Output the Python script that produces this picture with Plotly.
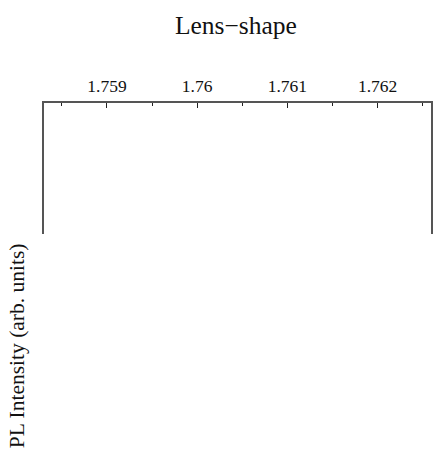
import plotly.graph_objects as go

# Data (axis ticks; no visible data marks)
x_range = [1.758302, 1.762592]
tick_values = [1.759, 1.760, 1.761, 1.762]
tick_labels = ["1.759", "1.76", "1.761", "1.762"]
x_data = []
y_data = []

title_text = "Lens\u2212shape"
y_label = "PL Intensity (arb. units)"

W, H = 434, 459
L, R, T, B = 44, 1, 103, 225
plot_h = H - T - B
plot_w = W - L - R

FONT = "Liberation Serif, Times New Roman, Times, serif"
LINE = "#555555"

fig = go.Figure()
fig.add_trace(go.Scatter(x=x_data, y=y_data, mode="lines", showlegend=False))

fig.update_layout(
    width=W, height=H,
    margin=dict(l=L, r=R, t=T, b=B, pad=0),
    paper_bgcolor="white", plot_bgcolor="white",
    font=dict(family=FONT, color="#111111"),
    showlegend=False,
    title=dict(text=title_text, font=dict(family=FONT, size=25.5, color="#111111"),
               x=(L + plot_w / 2) / W - 0.006, xanchor="center",
               y=1 - 25 / H, yanchor="middle", yref="container"),
    xaxis=dict(
        side="top", range=x_range,
        tickmode="array", tickvals=tick_values, ticktext=tick_labels,
        ticks="inside", ticklen=5, tickwidth=1.2, tickcolor="#222222",
        ticklabelstandoff=2,
        minor=dict(tickmode="linear", tick0=1.7585, dtick=0.001, ticks="inside",
                   ticklen=3, tickwidth=1.2, tickcolor="#222222"),
        showline=True, linecolor=LINE, linewidth=1.5, mirror=False,
        showgrid=False, zeroline=False,
        tickfont=dict(family=FONT, size=17.5, color="#111111"),
        fixedrange=True,
    ),
    yaxis=dict(
        range=[0, 1], showticklabels=False, ticks="",
        showline=True, linecolor=LINE, linewidth=1.5, mirror=True,
        showgrid=False, zeroline=False, fixedrange=True,
    ),
    annotations=[dict(
        text=y_label, textangle=-90, showarrow=False,
        xref="paper", yref="paper",
        x=(17 - L) / plot_w, y=(H - B - 346) / plot_h,
        xanchor="center", yanchor="middle",
        font=dict(family=FONT, size=21.5, color="#111111"),
    )],
)

fig.write_html("out.html")
